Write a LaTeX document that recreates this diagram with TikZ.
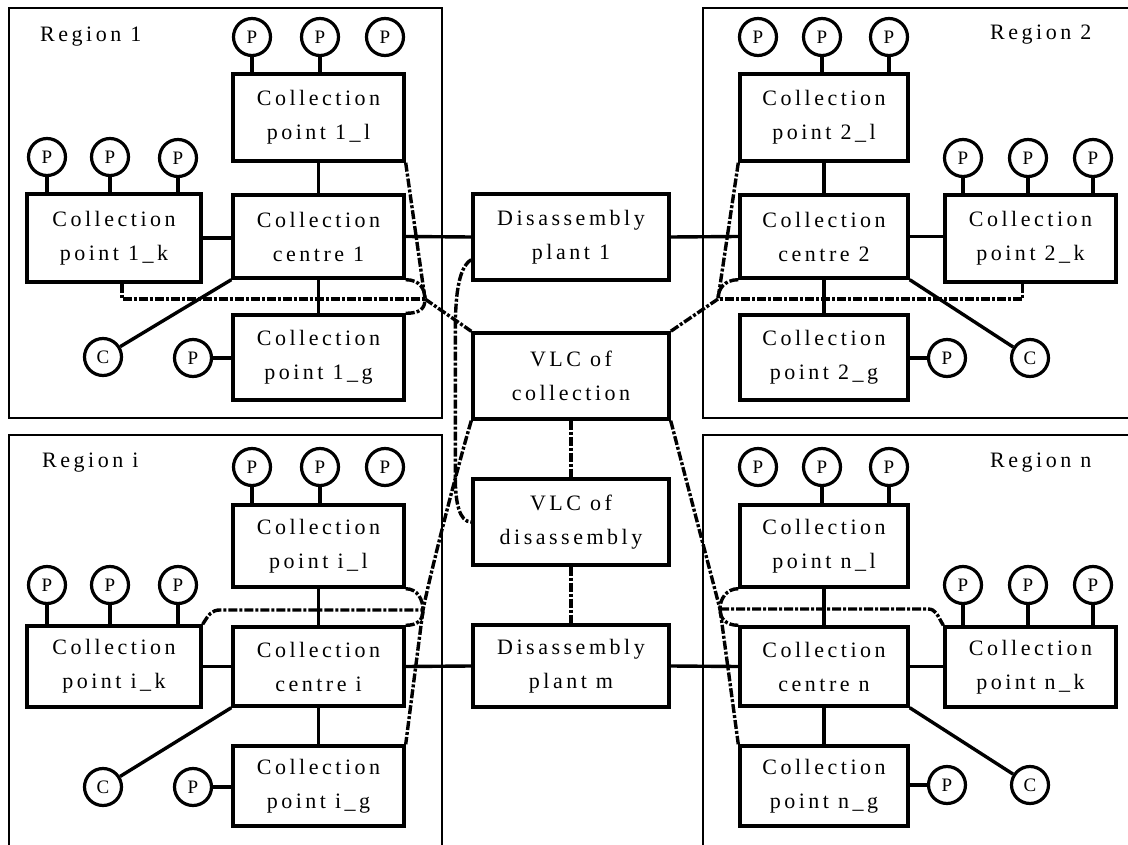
\documentclass[tikz,border=0pt]{standalone}
\usepackage{fontspec}
\setmainfont{Liberation Serif}
\newfontfamily\spc[LetterSpace=16]{Liberation Serif}
\begin{document}
\begin{tikzpicture}[x=1pt,y=-1pt,
  bx/.style={draw, fill=white, line width=3.4pt, inner sep=0pt, align=center, font=\spc\fontsize{22}{34}\selectfont},
  pc/.style={draw, fill=white, circle, line width=3.2pt, minimum size=37pt, inner sep=0pt, font=\fontsize{19}{19}\selectfont},
  ln/.style={line width=3.4pt},
  flow/.style={line width=3.4pt, dash pattern=on 9pt off 2pt on 3pt off 2pt},
  region/.style={line width=1.6pt},
  lab/.style={font=\spc\fontsize{22}{22}\selectfont, anchor=base west, inner sep=0pt}
]
\useasboundingbox (0,0) rectangle (1128,845);
\clip (0,0) rectangle (1128,845);

% regions
\draw[region] (9,8) rectangle (442,418);
\draw[region] (703,8) rectangle (1140,418);
\draw[region] (9,435) rectangle (442,860);
\draw[region] (703,435) rectangle (1140,860);
\node[lab] (r1) at (40,42) {Region 1};
\node[lab] (r2) at (990,40) {Region 2};
\node[lab] (ri) at (42,467) {Region i};
\node[lab] (rn) at (990,467) {Region n};

% boxes region 1
\node[bx, minimum width=171pt, minimum height=87pt] (p1l) at (318.5,117.5) {Collection\\point 1\_l};
\node[bx, minimum width=171pt, minimum height=83pt] (cc1) at (318.5,236.5) {Collection\\centre 1};
\node[bx, minimum width=174pt, minimum height=88pt] (p1k) at (114,238) {Collection\\point 1\_k};
\node[bx, minimum width=171pt, minimum height=85pt] (p1g) at (318.5,357.5) {Collection\\point 1\_g};
% region 2
\node[bx, minimum width=168pt, minimum height=87pt] (p2l) at (824,117.5) {Collection\\point 2\_l};
\node[bx, minimum width=168pt, minimum height=83pt] (cc2) at (824,236.5) {Collection\\centre 2};
\node[bx, minimum width=171pt, minimum height=87pt] (p2k) at (1030.5,238.5) {Collection\\point 2\_k};
\node[bx, minimum width=168pt, minimum height=85pt] (p2g) at (824,357.5) {Collection\\point 2\_g};
% region i
\node[bx, minimum width=171pt, minimum height=82pt] (pil) at (318.5,546) {Collection\\point i\_l};
\node[bx, minimum width=171pt, minimum height=79pt] (cci) at (318.5,666.5) {Collection\\centre i};
\node[bx, minimum width=174pt, minimum height=81pt] (pik) at (114,666.5) {Collection\\point i\_k};
\node[bx, minimum width=171pt, minimum height=80pt] (pig) at (318.5,786) {Collection\\point i\_g};
% region n
\node[bx, minimum width=168pt, minimum height=82pt] (pnl) at (824,546) {Collection\\point n\_l};
\node[bx, minimum width=168pt, minimum height=79pt] (ccn) at (824,666.5) {Collection\\centre n};
\node[bx, minimum width=171pt, minimum height=80pt] (pnk) at (1030.5,667) {Collection\\point n\_k};
\node[bx, minimum width=168pt, minimum height=80pt] (png) at (824,786) {Collection\\point n\_g};
% centre column
\node[bx, minimum width=196pt, minimum height=86pt] (dp1) at (571,237) {Disassembly\\plant 1};
\node[bx, minimum width=196pt, minimum height=86pt] (vc) at (571,376) {VLC of\\collection};
\node[bx, minimum width=196pt, minimum height=86pt] (vcd) at (571,522) {VLC of\\disassembly};
\node[bx, minimum width=196pt, minimum height=82pt] (dpm) at (571,666) {Disassembly\\plant m};

% circles
\foreach \n/\x/\y in {t1a/252/37, t1b/320/37, t1c/385/37, k1a/47/157, k1b/110/157, k1c/178/158,
  t2a/758/37, t2b/822/37, t2c/889/37, k2a/963/158, k2b/1028/158, k2c/1093/158,
  tia/252/467, tib/320/467, tic/385/467, kia/47/585, kib/110/585, kic/178/585,
  tna/758/467, tnb/822/467, tnc/889/467, kna/963/585, knb/1028/585, knc/1093/585,
  g1/193/358, g2/947/358, gi/193/787, gn/947/785}
  \node[pc] (\n) at (\x,\y) {P};
\node[pc] (C1) at (103,357) {C};
\node[pc] (C2) at (1030,358) {C};
\node[pc] (Ci) at (103,787) {C};
\node[pc] (Cn) at (1030,785) {C};

% convergence points
\coordinate (c1) at (425,299);
\coordinate (c2) at (718,299);
\coordinate (ci) at (423,610);
\coordinate (cn) at (720,609);

% solid links
\foreach \p/\b in {t1a/p1l, t1b/p1l, k1a/p1k, k1b/p1k, k1c/p1k, t2b/p2l, t2c/p2l, k2a/p2k, k2b/p2k, k2c/p2k,
  tia/pil, tib/pil, kia/pik, kib/pik, kic/pik, tnb/pnl, tnc/pnl, kna/pnk, knb/pnk, knc/pnk}
  \draw[ln] (\p.south) -- (\p.south |- \b.north);
\draw[ln] (cc1.north) -- (p1l.south);
\draw[ln] (cc1.south) -- (p1g.north);
\draw[ln] (p1k.east) -- (p1k.east -| cc1.west);
\draw[ln] (cc1.east) -- (dp1.west);
\draw[ln] (cc1.south west) -- (C1);
\draw[ln] (g1) -- (g1 -| p1g.west);

\draw[ln] (cc2.north) -- (p2l.south);
\draw[ln] (cc2.south) -- (p2g.north);
\draw[ln] (cc2.east) -- (cc2.east -| p2k.west);
\draw[ln] (cc2.west) -- (dp1.east);
\draw[ln] (cc2.south east) -- (C2);
\draw[ln] (g2) -- (g2 -| p2g.east);

\draw[ln] (cci.north) -- (pil.south);
\draw[ln] (cci.south) -- (pig.north);
\draw[ln] (pik.east) -- (pik.east -| cci.west);
\draw[ln] (cci.east) -- (dpm.west);
\draw[ln] (cci.south west) -- (Ci);
\draw[ln] (gi) -- (gi -| pig.west);

\draw[ln] (ccn.north) -- (pnl.south);
\draw[ln] (ccn.south) -- (png.north);
\draw[ln] (ccn.east) -- (ccn.east -| pnk.west);
\draw[ln] (ccn.west) -- (dpm.east);
\draw[ln] (ccn.south east) -- (Cn);
\draw[ln] (gn) -- (gn -| png.east);

% information flows
\draw[flow] (p1l.south east) -- (c1);
\draw[flow] ([xshift=8pt]p1k.south) |- (c1);
\draw[flow] (cc1.south east) .. controls +(14,0) and +(0,-10) .. (c1);
\draw[flow] (p1g.north east) .. controls +(14,0) and +(0,10) .. (c1);
\draw[flow] (c1) -- (vc.north west);
\draw[flow] ([yshift=22pt]dp1.south west) .. controls +(-14,8) and +(0,-30) .. ([xshift=-16pt]vc.north west)
   -- ([xshift=-16pt]vcd.north west) .. controls +(0,25) and +(-12,0) .. (vcd.west);

\draw[flow] (p2l.south west) -- (c2);
\draw[flow] ([xshift=-8pt]p2k.south) |- (c2);
\draw[flow] (cc2.south west) .. controls +(-14,0) and +(0,-10) .. (c2);
\draw[flow] (c2) -- (vc.north east);

\draw[flow] (vc.south west) .. controls +(-12,40) and +(8,-40) .. (ci);
\draw[flow] (ci) -- (pig.north east);
\draw[flow] (pik.north east) .. controls +(6,-10) and +(-8,0) .. ([xshift=-203pt]ci) -- (ci);
\draw[flow] (pil.south east) .. controls +(12,0) and +(0,-10) .. (ci);
\draw[flow] (cci.north east) .. controls +(12,0) and +(0,10) .. (ci);

\draw[flow] (vc.south east) -- (cn);
\draw[flow] (cn) -- (png.north west);
\draw[flow] (pnl.south west) .. controls +(-12,0) and +(0,-10) .. (cn);
\draw[flow] (ccn.north west) .. controls +(-12,0) and +(0,10) .. (cn);
\draw[flow] (cn) -- ([xshift=208pt]cn) .. controls +(8,0) and +(-6,-10) .. (pnk.north west);

\draw[flow] (vc) -- (vcd);
\draw[flow] (vcd) -- (dpm);
\end{tikzpicture}
\end{document}
